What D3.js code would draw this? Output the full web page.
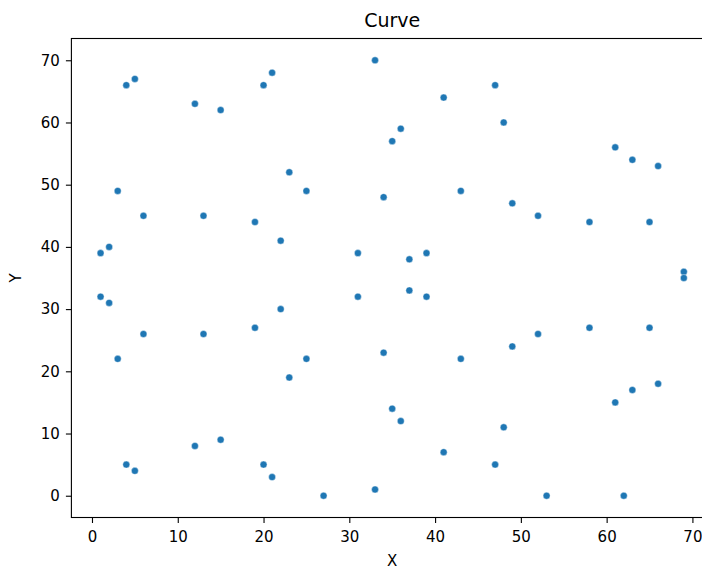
<!DOCTYPE html>
<html>
<head>
<meta charset="utf-8">
<script src="https://cdn.jsdelivr.net/npm/d3@7"></script>
<style>
  body { margin: 0; background: #fff; }
  svg { display: block; font-family: "DejaVu Sans", sans-serif; }
</style>
</head>
<body>
<div id="chart"></div>
<script>
// points of the curve, x and y in the same order
const xs = [1, 1, 2, 2, 3, 3, 4, 4, 5, 5, 6, 6, 12, 12, 13, 13, 15, 15, 19, 19,
  20, 20, 21, 21, 22, 22, 23, 23, 25, 25, 27, 31, 31, 33, 33, 34, 34, 35, 35,
  36, 36, 37, 37, 39, 39, 41, 41, 43, 43, 47, 47, 48, 48, 49, 49, 52, 52, 53,
  58, 58, 61, 61, 62, 63, 63, 65, 65, 66, 66, 69, 69];
const ys = [39, 32, 40, 31, 49, 22, 66, 5, 67, 4, 45, 26, 63, 8, 45, 26, 62, 9, 44, 27,
  66, 5, 68, 3, 41, 30, 52, 19, 49, 22, 0, 39, 32, 70, 1, 48, 23, 57, 14,
  59, 12, 38, 33, 39, 32, 64, 7, 49, 22, 66, 5, 60, 11, 47, 24, 45, 26, 0,
  44, 27, 56, 15, 0, 54, 17, 44, 27, 53, 18, 36, 35];
const xTicks = [0, 10, 20, 30, 40, 50, 60, 70];
const yTicks = [0, 10, 20, 30, 40, 50, 60, 70];

const W = 702, H = 569;
const mLeft = 71.4, mRight = 713, mTop = 38.5, mBottom = 517.5;

const svg = d3.select('#chart')
  .append('svg')
  .attr('width', W)
  .attr('height', H);

const x = d3.scaleLinear().domain([-2.4, 72.4]).range([mLeft, mRight]);
const y = d3.scaleLinear().domain([-3.5, 73.5]).range([mBottom, mTop]);

// points
svg.append('g')
  .selectAll('circle')
  .data(xs)
  .enter().append('circle')
  .attr('cx', (d, i) => x(d))
  .attr('cy', (d, i) => y(ys[i]))
  .attr('r', 3.5)
  .attr('fill', '#1f77b4')
  .attr('stroke', '#fff')
  .attr('stroke-width', 0.4);

// axes
const xAxis = svg.append('g')
  .attr('transform', `translate(0, ${mBottom})`)
  .call(d3.axisBottom(x).tickValues(xTicks).tickSize(5.5).tickPadding(8).tickSizeOuter(0));
const yAxis = svg.append('g')
  .attr('transform', `translate(${mLeft}, 0)`)
  .call(d3.axisLeft(y).tickValues(yTicks).tickSize(5.5).tickPadding(6).tickSizeOuter(0));

[xAxis, yAxis].forEach(a => {
  a.select('.domain').remove();
  a.selectAll('line').attr('stroke', '#000').attr('stroke-width', 1.1);
  a.selectAll('text')
    .attr('fill', '#000')
    .style('font-family', '"DejaVu Sans", sans-serif')
    .style('font-size', '15px');
});

// frame
svg.append('rect')
  .attr('x', mLeft)
  .attr('y', mTop)
  .attr('width', mRight - mLeft)
  .attr('height', mBottom - mTop)
  .attr('fill', 'none')
  .attr('stroke', '#000')
  .attr('stroke-width', 1.1);

// title and labels
svg.append('text')
  .attr('x', (mLeft + mRight) / 2)
  .attr('y', 27.3)
  .attr('text-anchor', 'middle')
  .attr('font-size', '19px')
  .text('Curve');

svg.append('text')
  .attr('x', (mLeft + mRight) / 2)
  .attr('y', 566)
  .attr('text-anchor', 'middle')
  .attr('font-size', '15px')
  .text('X');

svg.append('text')
  .attr('transform', `translate(21, ${(mTop + mBottom) / 2}) rotate(-90)`)
  .attr('text-anchor', 'middle')
  .attr('font-size', '15px')
  .text('Y');
</script>
</body>
</html>
